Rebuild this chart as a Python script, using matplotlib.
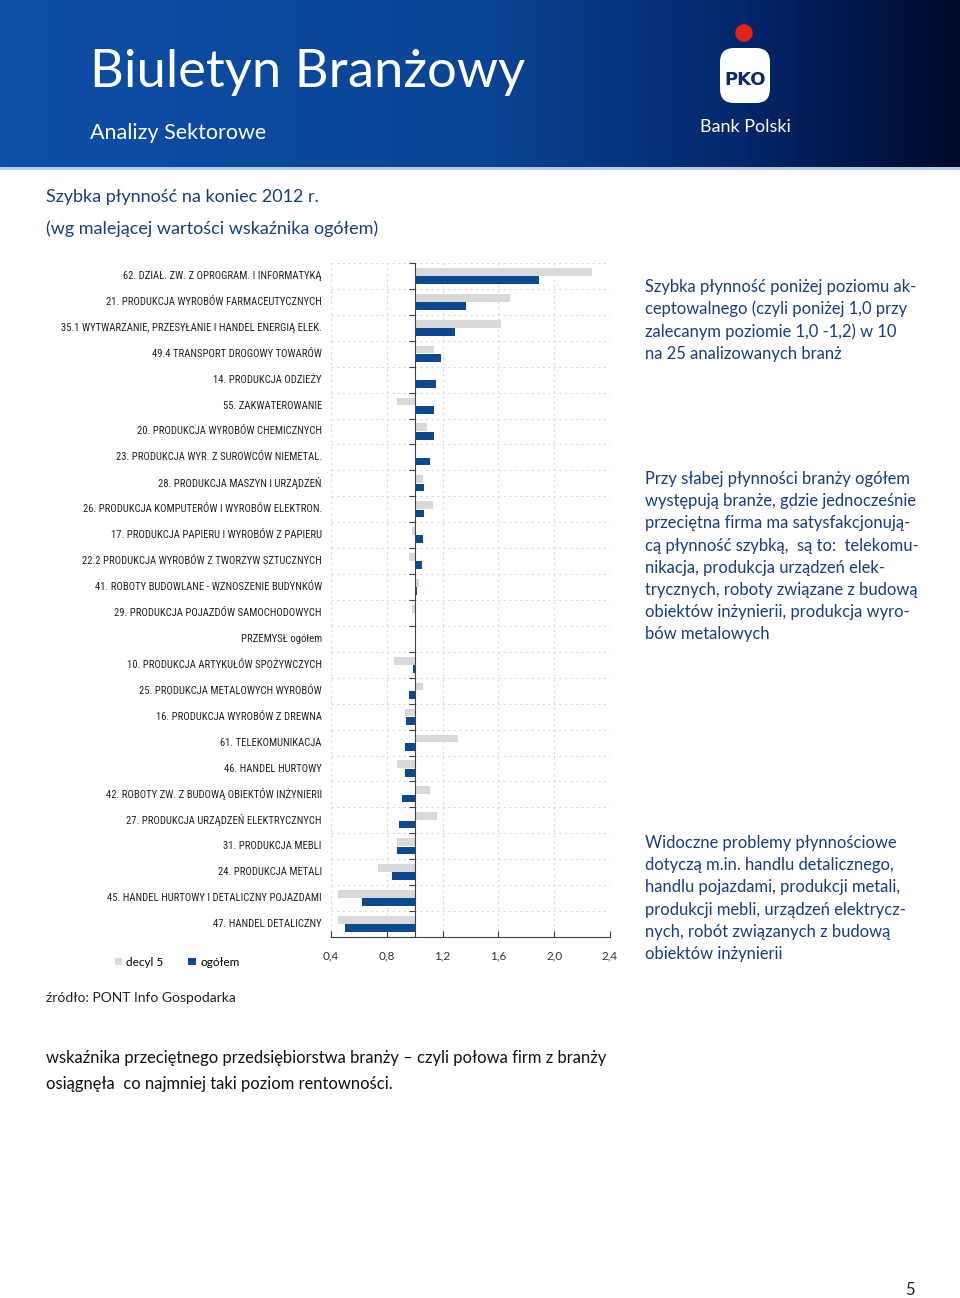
import matplotlib
matplotlib.use('Agg')
import numpy as np
import matplotlib.pyplot as plt
from matplotlib import font_manager
from matplotlib.colors import LinearSegmentedColormap
from matplotlib.patches import FancyBboxPatch, Circle, Rectangle

# data: szybka plynnosc, koniec 2012 r.
branze = ['62. DZIAŁ. ZW. Z OPROGRAM. I INFORMATYKĄ',
          '21. PRODUKCJA WYROBÓW FARMACEUTYCZNYCH',
          '35.1 WYTWARZANIE, PRZESYŁANIE I HANDEL ENERGIĄ ELEK.',
          '49.4 TRANSPORT DROGOWY TOWARÓW',
          '14. PRODUKCJA ODZIEŻY',
          '55. ZAKWATEROWANIE',
          '20. PRODUKCJA WYROBÓW CHEMICZNYCH',
          '23. PRODUKCJA WYR. Z SUROWCÓW NIEMETAL.',
          '28. PRODUKCJA MASZYN I URZĄDZEŃ',
          '26. PRODUKCJA KOMPUTERÓW I WYROBÓW ELEKTRON.',
          '17. PRODUKCJA PAPIERU I WYROBÓW Z PAPIERU',
          '22.2 PRODUKCJA WYROBÓW Z TWORZYW SZTUCZNYCH',
          '41. ROBOTY BUDOWLANE - WZNOSZENIE BUDYNKÓW',
          '29. PRODUKCJA POJAZDÓW SAMOCHODOWYCH',
          'PRZEMYSŁ ogółem',
          '10. PRODUKCJA ARTYKUŁÓW SPOŻYWCZYCH',
          '25. PRODUKCJA METALOWYCH WYROBÓW',
          '16. PRODUKCJA WYROBÓW Z DREWNA',
          '61. TELEKOMUNIKACJA',
          '46. HANDEL HURTOWY',
          '42. ROBOTY ZW. Z BUDOWĄ OBIEKTÓW INŻYNIERII',
          '27. PRODUKCJA URZĄDZEŃ ELEKTRYCZNYCH',
          '31. PRODUKCJA MEBLI',
          '24. PRODUKCJA METALI',
          '45. HANDEL HURTOWY I DETALICZNY POJAZDAMI',
          '47. HANDEL DETALICZNY']
decyl5 = [2.27, 1.68, 1.62, 1.14, 1.00, 0.87, 1.09, 1.00, 1.06, 1.13, 0.98, 0.96, 1.03,
          0.98, 1.01, 0.85, 1.06, 0.93, 1.31, 0.87, 1.11, 1.16, 0.87, 0.74, 0.45, 0.45]
ogolem = [1.89, 1.37, 1.29, 1.19, 1.15, 1.14, 1.14, 1.11, 1.07, 1.07, 1.06, 1.05, 1.02,
          1.01, 1.00, 0.99, 0.96, 0.94, 0.93, 0.93, 0.91, 0.89, 0.87, 0.84, 0.62, 0.50]
x_ticks = [0.4, 0.8, 1.2, 1.6, 2.0, 2.4]
x_labels = ['0,4', '0,8', '1,2', '1,6', '2,0', '2,4']
baza = 1.0

BLUE = '#0b4a92'
GREY = '#d9d9d9'
TXT_BLUE = '#163f7c'


def pick_font(names):
    for n in names:
        try:
            font_manager.findfont(n, fallback_to_default=False)
            return n
        except Exception:
            pass
    return 'DejaVu Sans'


label_font = pick_font(['Liberation Sans Narrow', 'Roboto Condensed', 'Lato', 'Roboto'])
text_font = pick_font(['Lato', 'Open Sans', 'Noto Sans'])

W, H = 960, 1298
fig = plt.figure(figsize=(W / 100, H / 100), dpi=100)

# page layer in pixel coords
bg = fig.add_axes([0, 0, 1, 1], zorder=-1)
bg.axis('off')

cmap = LinearSegmentedColormap.from_list('hdr', [(0, '#0d4fa6'), (0.5, '#0a4595'),
                                                 (0.78, '#04266a'), (1, '#000a2c')])
grad = np.linspace(0, 1, 400).reshape(1, -1)
bg.imshow(grad, cmap=cmap, extent=[0, W, 168, 0], aspect='auto')
bg.add_patch(Rectangle((0, 167), W, 3, color='#b3c8e2', lw=0))
bg.set_xlim(0, W)
bg.set_ylim(H, 0)

bg.text(90, 72, 'Biuletyn Branżowy', color='white', fontsize=37.8, family=text_font,
        va='center', ha='left')
bg.text(90, 133, 'Analizy Sektorowe', color='white', fontsize=15.5, family=text_font,
        va='center', ha='left')

# rough logo
bg.add_patch(Circle((744, 33), 8, color='#e2231a'))
bg.add_patch(FancyBboxPatch((720, 48), 50, 55, boxstyle='round,pad=0,rounding_size=14',
                            fc='white', ec='none'))
bg.text(745, 80, 'PKO', color='#0a2a66', fontsize=13, fontweight='bold',
        family='DejaVu Sans Condensed', ha='center', va='center')
bg.text(745, 127, 'Bank Polski', color='white', fontsize=13, family=text_font,
        ha='center', va='center')

bg.text(46, 197, 'Szybka płynność na koniec 2012 r.', color=TXT_BLUE, fontsize=13,
        family=text_font, va='center')
bg.text(46, 229, '(wg malejącej wartości wskaźnika ogółem)', color=TXT_BLUE, fontsize=13,
        family=text_font, va='center')

akapity = [
    (287, ['Szybka płynność poniżej poziomu ak-',
           'ceptowalnego (czyli poniżej 1,0 przy',
           'zalecanym poziomie 1,0 -1,2) w 10',
           'na 25 analizowanych branż']),
    (479, ['Przy słabej płynności branży ogółem',
           'występują branże, gdzie jednocześnie',
           'przeciętna firma ma satysfakcjonują-',
           'cą płynność szybką,  są to:  telekomu-',
           'nikacja, produkcja urządzeń elek-',
           'trycznych, roboty związane z budową',
           'obiektów inżynierii, produkcja wyro-',
           'bów metalowych']),
    (843, ['Widoczne problemy płynnościowe',
           'dotyczą m.in. handlu detalicznego,',
           'handlu pojazdami, produkcji metali,',
           'produkcji mebli, urządzeń elektrycz-',
           'nych, robót związanych z budową',
           'obiektów inżynierii']),
]
for y0, lines in akapity:
    for i, line in enumerate(lines):
        bg.text(645, y0 + i * 22.2, line, color=TXT_BLUE, fontsize=11.9, family=text_font,
                va='center', ha='left')

bg.text(46, 998, 'źródło: PONT Info Gospodarka', color='#222222', fontsize=10,
        family=text_font, va='center')
bg.text(46, 1058, 'wskaźnika przeciętnego przedsiębiorstwa branży – czyli połowa firm z branży',
        color='#111111', fontsize=11.9, family=text_font, va='center')
bg.text(46, 1084, 'osiągnęła  co najmniej taki poziom rentowności.', color='#111111',
        fontsize=11.9, family=text_font, va='center')
bg.text(910, 1290, '5', color='#222222', fontsize=12, family=text_font, ha='center', va='center')

# chart
ax = fig.add_axes([331 / W, 1 - 937 / H, 279 / W, 674 / H])
y = np.arange(len(branze))
h = 0.3
g_bars = ax.barh(y - 0.16, np.array(decyl5) - baza, left=baza, height=h, color=GREY,
                 label='decyl 5', zorder=2)
b_bars = ax.barh(y + 0.16, np.array(ogolem) - baza, left=baza, height=h, color=BLUE,
                 label='ogółem', zorder=3)

ax.set_xlim(0.4, 2.4)
ax.set_ylim(len(branze) - 0.5, -0.5)

for xv in x_ticks:
    ax.axvline(xv, color='#dadada', lw=0.8, ls=(0, (2, 3)), zorder=0)
for yb in np.arange(-0.5, len(branze), 1.0):
    ax.axhline(yb, color='#dadada', lw=0.8, ls=(0, (2, 3)), zorder=0)

for s in ['top', 'right']:
    ax.spines[s].set_visible(False)
ax.spines['left'].set_position(('data', baza))
ax.spines['left'].set_color('#404040')
ax.spines['left'].set_zorder(4)
ax.spines['bottom'].set_color('#404040')
ax.set_yticks(np.arange(-0.5, len(branze), 1.0))
ax.set_yticklabels([])
ax.tick_params(axis='y', length=4, direction='out', color='#404040')
ax.set_xticks(x_ticks)
ax.set_xticklabels(x_labels, fontsize=8.5, family=text_font, color='#333333')
ax.tick_params(axis='x', length=4, direction='in', pad=10, color='#404040')

for i, lab in enumerate(branze):
    ax.text(-0.033, i, lab, transform=ax.get_yaxis_transform(), ha='right', va='center',
            fontsize=7.7, family=label_font, color='#222222')

fig.legend(handles=[g_bars, b_bars], labels=['decyl 5', 'ogółem'], loc='center left',
           bbox_to_anchor=(104 / W, 1 - 962 / H), ncol=2, frameon=False,
           handlelength=0.6, handleheight=0.6, handletextpad=0.4, columnspacing=2.1,
           prop={'family': text_font, 'size': 8.5})

fig.savefig('out.png', dpi=100)
